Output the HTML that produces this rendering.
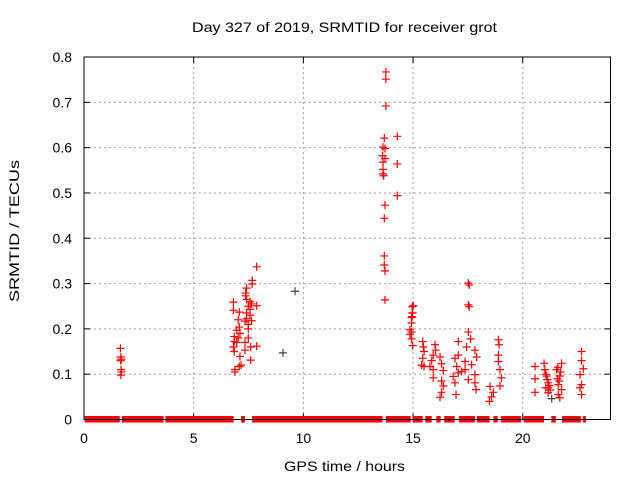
<!DOCTYPE html>
<html><head><meta charset="utf-8"><style>
body{margin:0;background:#fff}
svg text{font-family:"Liberation Sans",sans-serif;font-size:14px;fill:#000}
</style></head><body>
<svg id="chart" width="640" height="480" xmlns="http://www.w3.org/2000/svg">
<text x="344.5" y="32" text-anchor="middle" textLength="305" lengthAdjust="spacingAndGlyphs">Day 327 of 2019, SRMTID for receiver grot</text>
<text transform="translate(19,231) rotate(-90)" text-anchor="middle" textLength="142" lengthAdjust="spacingAndGlyphs">SRMTID / TECUs</text>
<text x="344.5" y="471" text-anchor="middle" textLength="121" lengthAdjust="spacingAndGlyphs">GPS time / hours</text>
<g id="grid"></g>
<g id="ticks"></g>
<g id="zeros"></g>
<g id="pts"></g>
<rect x="84" y="57" width="526.5" height="362.5" fill="none" stroke="#000" stroke-width="1"/>
</svg>
<script>
const xTicks=[0,5,10,15,20];
const yTicks=[0,0.1,0.2,0.3,0.4,0.5,0.6,0.7,0.8];
const yTickLabels=["0","0.1","0.2","0.3","0.4","0.5","0.6","0.7","0.8"];
const zeroStart=[0.03,1.73,3.71,7.16,7.66,13.76,14.98,15.56,16.06,16.42,17.09,17.91,18.66,19.0,20.04,21.3,21.79,22.74];
const zeroEnd=[1.63,3.63,6.82,7.34,13.61,14.89,15.44,15.85,16.26,16.9,17.82,18.49,18.86,19.92,20.97,21.51,22.65,22.87];
const hours=[1.66,1.68,1.70,1.67,1.69,1.71,1.68,
7.87,7.67,7.67,7.41,7.37,7.37,7.41,7.57,6.81,7.64,7.87,7.49,6.81,7.57,7.08,7.41,7.57,7.41,7.03,7.64,7.34,7.49,7.08,6.96,7.49,7.11,6.85,7.03,7.49,6.85,6.96,7.34,7.87,7.60,6.81,6.85,7.34,7.11,7.60,7.16,7.08,6.88,6.88,
9.07,9.62,
13.76,13.76,13.76,13.69,14.28,13.63,13.72,13.61,13.72,13.63,14.28,13.63,13.63,13.66,14.28,13.72,13.69,13.69,13.69,13.72,13.72,14.96,14.96,14.96,
15.01,14.98,14.93,14.93,14.86,14.93,14.86,14.93,14.98,
15.44,15.47,15.50,15.44,15.39,15.50,15.77,15.92,16.0,16.03,15.92,16.23,15.85,16.30,15.92,16.38,16.30,16.38,16.30,16.23,
17.06,16.91,17.06,16.99,17.06,16.83,16.91,16.96,17.21,17.37,17.44,17.52,17.56,17.52,17.56,17.52,17.62,17.37,17.52,17.82,17.90,17.82,17.82,17.87,17.67,
18.51,18.58,18.48,18.66,18.89,18.92,18.89,18.89,18.96,19.03,18.96,
20.56,20.56,20.56,20.97,21.01,21.09,21.16,21.16,21.32,21.16,21.54,21.69,21.62,21.77,21.77,21.62,21.69,
22.68,22.68,22.76,22.61,22.68,22.61,22.68,
21.05,21.12,21.20,21.58,21.66,21.73,21.05,21.25,21.60];
const values=[0.157,0.138,0.133,0.130,0.110,0.105,0.098,
0.337,0.307,0.299,0.290,0.279,0.273,0.265,0.260,0.259,0.255,0.251,0.250,0.241,0.243,0.237,0.235,0.230,0.222,0.220,0.218,0.217,0.210,0.204,0.197,0.200,0.190,0.183,0.180,0.180,0.172,0.170,0.170,0.162,0.160,0.160,0.150,0.153,0.139,0.131,0.120,0.117,0.110,0.105,
0.147,0.283,
0.767,0.751,0.692,0.621,0.625,0.601,0.598,0.582,0.576,0.568,0.564,0.552,0.542,0.538,0.494,0.473,0.444,0.361,0.341,0.328,0.264,0.249,0.235,0.227,
0.251,0.235,0.225,0.213,0.198,0.193,0.188,0.178,0.163,
0.172,0.160,0.150,0.135,0.120,0.117,0.117,0.110,0.165,0.153,0.142,0.138,0.130,0.123,0.092,0.108,0.085,0.074,0.060,0.049,
0.172,0.135,0.142,0.117,0.103,0.095,0.081,0.055,0.106,0.128,0.160,0.301,0.297,0.253,0.249,0.193,0.178,0.110,0.088,0.153,0.138,0.099,0.081,0.066,0.121,
0.073,0.050,0.040,0.060,0.176,0.165,0.142,0.128,0.110,0.092,0.074,
0.117,0.090,0.060,0.124,0.110,0.096,0.081,0.059,0.046,0.070,0.110,0.096,0.077,0.124,0.066,0.055,0.048,
0.150,0.130,0.112,0.099,0.077,0.070,0.055,
0.100,0.088,0.075,0.090,0.085,0.105,0.070,0.065,0.115];
const darkIdx=[50,51,149];
const X0=84,X1=610.5,Y0=419.5,Y1=57;
const xs=h=>X0+(h/24)*(X1-X0);
const ys=v=>Y0-(v/0.8)*(Y0-Y1);
const NS="http://www.w3.org/2000/svg";
function mk(tag,attrs,parent){const e=document.createElementNS(NS,tag);for(const k in attrs)e.setAttribute(k,attrs[k]);parent.appendChild(e);return e;}
const grid=document.getElementById('grid'),ticks=document.getElementById('ticks');
xTicks.forEach(t=>{
  const x=xs(t);
  if(t>0){const g=mk('line',{x1:x,x2:x,y1:Y1,y2:Y0,stroke:'#a0a0a0','stroke-dasharray':'2,3'},grid);
  
  }
  mk('line',{x1:x,x2:x,y1:Y0,y2:Y0-6,stroke:'#000'},ticks);
  mk('line',{x1:x,x2:x,y1:Y1,y2:Y1+6,stroke:'#000'},ticks);
  const tx=mk('text',{x:x,y:443,'text-anchor':'middle'},ticks);tx.textContent=String(t);
  
  
});
yTicks.forEach((t,i)=>{
  const y=ys(t);
  if(t>0&&t<0.8){const g=mk('line',{x1:X0,x2:X1,y1:y,y2:y,stroke:'#a0a0a0','stroke-dasharray':'2,3'},grid);
  
  }
  mk('line',{x1:X0,x2:X0+6,y1:y,y2:y,stroke:'#000'},ticks);
  mk('line',{x1:X1,x2:X1-6,y1:y,y2:y,stroke:'#000'},ticks);
  const tx=mk('text',{x:72,y:y+5,'text-anchor':'end'},ticks);tx.textContent=yTickLabels[i];
  
  
});
const zg=document.getElementById('zeros');
zeroStart.forEach((s,i)=>{
  const a=xs(s),b=xs(zeroEnd[i]);
  const r=mk('rect',{x:a,y:ys(0)-3.5,width:Math.max(b-a,3),height:6.5,fill:'#f00'},zg);
  
  
});
const pg=document.getElementById('pts');
hours.forEach((h,i)=>{
  const x=xs(h),y=ys(values[i]);
  const c=darkIdx.includes(i)?'#444':'#f00';
  const p=mk('path',{d:`M${x-4},${y}H${x+4}M${x},${y-4}V${y+4}`,stroke:c,'stroke-width':1.2,fill:'none'},pg);
  
  
});
</script>
</body></html>
